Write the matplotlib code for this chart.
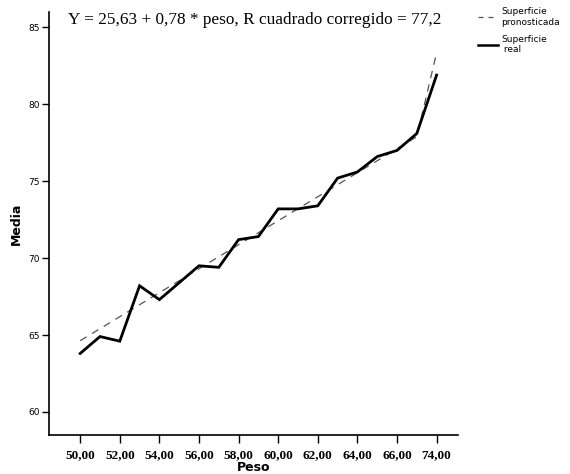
import matplotlib.pyplot as plt
from matplotlib.lines import Line2D

# weights (categories) and the mean surface per weight
peso = ["50,00", "51,00", "52,00", "53,00", "54,00", "55,00", "56,00", "57,00",
        "58,00", "59,00", "60,00", "61,00", "62,00", "63,00", "64,00", "65,00",
        "66,00", "67,00", "74,00"]
real = [63.8, 64.9, 64.6, 68.2, 67.3, 68.4, 69.5, 69.4, 71.2, 71.4,
        73.2, 73.2, 73.4, 75.2, 75.6, 76.6, 77.0, 78.1, 81.9]
pronosticada = [64.63, 65.41, 66.19, 66.97, 67.75, 68.53, 69.31, 70.09, 70.87, 71.65,
                72.43, 73.21, 73.99, 74.77, 75.55, 76.33, 77.11, 77.89, 83.35]
y_ticks = [60, 65, 70, 75, 80, 85]

fig = plt.figure(figsize=(5.7, 4.74), dpi=100)
ax = fig.add_axes([0.0868, 0.0823, 0.7167, 0.8924])

idx = list(range(len(peso)))
ax.plot(idx, pronosticada, color="#555555", lw=0.9, dashes=(6, 5))
ax.plot(idx, real, color="black", lw=2.0, solid_joinstyle="miter")

ax.set_xlim(-1.55, 19.08)
ax.set_ylim(58.5, 86.0)
ax.set_xticks(idx[::2])
ax.set_xticklabels(peso[::2], fontfamily="Liberation Serif", fontweight="bold", fontsize=9.5)
ax.set_yticks(y_ticks)
ax.set_yticklabels([str(v) for v in y_ticks], fontsize=6.5)
ax.tick_params(axis="x", length=6, width=1, pad=4)
ax.tick_params(axis="y", length=5, width=1, pad=2)

for s in ["top", "right"]:
    ax.spines[s].set_visible(False)
for s in ["left", "bottom"]:
    ax.spines[s].set_linewidth(1.2)

ax.set_xlabel("Peso", fontweight="bold", fontsize=9, labelpad=0)
ax.set_ylabel("Media", fontweight="bold", fontsize=9, labelpad=4)

fig.text(0.119, 0.957, "Y = 25,63 + 0,78 * peso, R cuadrado corregido = 77,2",
         fontfamily="Liberation Serif", fontsize=12.4, va="center", ha="left")

handles = [Line2D([], [], color="#555555", lw=0.9, dashes=(4, 4)),
           Line2D([], [], color="black", lw=1.8)]
fig.legend(handles, ["Superficie\npronosticada", "Superficie\n real"],
           loc="upper left", bbox_to_anchor=(0.832, 0.992), frameon=False,
           fontsize=6.5, handlelength=2.2, handletextpad=0.4, labelspacing=0.9,
           borderaxespad=0)

fig.savefig("out.png", dpi=100)
